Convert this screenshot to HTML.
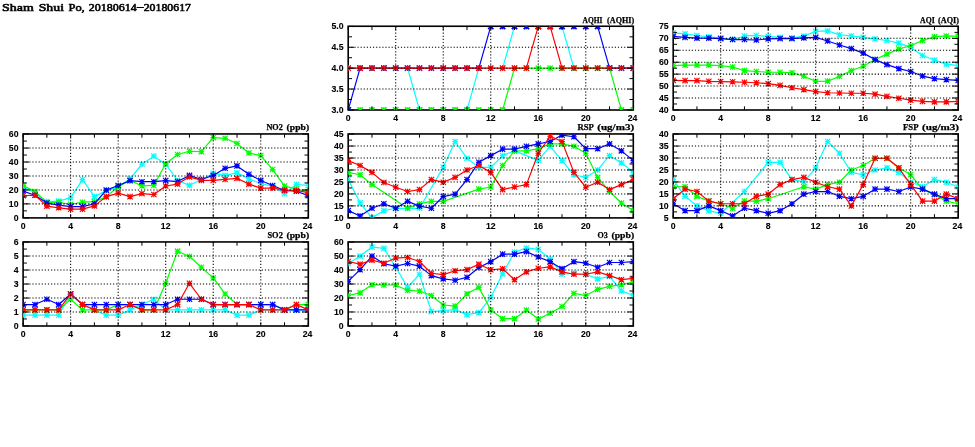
<!DOCTYPE html>
<html><head><meta charset="utf-8"><title>Sham Shui Po, 20180614-20180617</title>
<style>html,body{margin:0;padding:0;background:#fff}svg{display:block}</style></head>
<body>
<svg width="975" height="447" viewBox="0 0 975 447">
<rect width="975" height="447" fill="#fff"/>
<defs>
<g id="mc" stroke="#00ffff" stroke-width="1.15" fill="none"><path d="M-2.8,0H2.8M0,-2.8V2.8M-2.66,-2.66L2.66,2.66M-2.66,2.66L2.66,-2.66"/></g>
<g id="nc" stroke="#00ffff" stroke-width="1.6" fill="none"><path d="M0,-2.8V2.8M-2.66,-2.66L2.66,2.66M-2.66,2.66L2.66,-2.66"/></g>
<g id="mg" stroke="#00ff00" stroke-width="1.15" fill="none"><path d="M-2.8,0H2.8M0,-2.8V2.8M-2.66,-2.66L2.66,2.66M-2.66,2.66L2.66,-2.66"/></g>
<g id="ng" stroke="#00ff00" stroke-width="1.6" fill="none"><path d="M0,-2.8V2.8M-2.66,-2.66L2.66,2.66M-2.66,2.66L2.66,-2.66"/></g>
<g id="mb" stroke="#0000ff" stroke-width="1.15" fill="none"><path d="M-2.8,0H2.8M0,-2.8V2.8M-2.66,-2.66L2.66,2.66M-2.66,2.66L2.66,-2.66"/></g>
<g id="nb" stroke="#0000ff" stroke-width="1.6" fill="none"><path d="M0,-2.8V2.8M-2.66,-2.66L2.66,2.66M-2.66,2.66L2.66,-2.66"/></g>
<g id="mr" stroke="#ff0000" stroke-width="1.15" fill="none"><path d="M-2.8,0H2.8M0,-2.8V2.8M-2.66,-2.66L2.66,2.66M-2.66,2.66L2.66,-2.66"/></g>
<g id="nr" stroke="#ff0000" stroke-width="1.6" fill="none"><path d="M0,-2.8V2.8M-2.66,-2.66L2.66,2.66M-2.66,2.66L2.66,-2.66"/></g>
<clipPath id="cpNO2"><rect x="23.1" y="134.1" width="285.2" height="83.75"/></clipPath>
<clipPath id="cpSO2"><rect x="23.1" y="242.1" width="285.2" height="83.85"/></clipPath>
<clipPath id="cpAQHI"><rect x="348.2" y="26.4" width="285.09999999999997" height="83.55000000000001"/></clipPath>
<clipPath id="cpRSP"><rect x="348.2" y="134.1" width="285.09999999999997" height="83.75"/></clipPath>
<clipPath id="cpFSP"><rect x="673.2" y="134.1" width="285.0" height="83.75"/></clipPath>
<clipPath id="cpO3"><rect x="348.2" y="242.1" width="285.09999999999997" height="83.85"/></clipPath>
<clipPath id="cpAQI"><rect x="673.2" y="26.4" width="285.0" height="83.55000000000001"/></clipPath>
</defs>
<text y="10.65" font-family="'Liberation Serif', serif" font-size="11.2" fill="#000" stroke="#000" stroke-width="0.6" stroke-linejoin="round"><tspan x="2.1" textLength="31.7" lengthAdjust="spacingAndGlyphs">Sham</tspan> <tspan x="38.7" textLength="25.3" lengthAdjust="spacingAndGlyphs">Shui</tspan> <tspan x="68.5" textLength="16.2" lengthAdjust="spacingAndGlyphs">Po,</tspan> <tspan x="88.8" textLength="47.9" lengthAdjust="spacingAndGlyphs">20180614</tspan><tspan x="137.1" dy="-0.7" textLength="6.5" lengthAdjust="spacingAndGlyphs">–</tspan><tspan x="143.7" dy="0.7" textLength="47.3" lengthAdjust="spacingAndGlyphs">20180617</tspan></text>
<g id="NO2">
<rect x="23.1" y="133.95" width="285.2" height="83.95" stroke="#000" stroke-width="1.6" fill="none"/>
<g clip-path="url(#cpNO2)">
<path d="M23.1,187.14L34.98,192.72L46.87,201.66L58.75,201.1L70.63,197.61L82.52,179.6L94.4,196.63L106.28,190.63L118.17,187.14L130.05,178.77L141.93,164.25L153.82,156.15L165.7,164.25L177.58,180.44L189.47,185.33L201.35,179.46L213.23,173.32L225.12,175.42L237,172.9L248.88,178.77L260.77,183.51L272.65,186.44L284.53,193.56L296.42,184.49L308.3,185.47" stroke="#00ffff" stroke-width="1.2" fill="none" stroke-linejoin="round"/>
<use href="#mc" x="23.1" y="187.14"/>
<use href="#mc" x="34.98" y="192.72"/>
<use href="#mc" x="46.87" y="201.66"/>
<use href="#mc" x="58.75" y="201.1"/>
<use href="#mc" x="70.63" y="197.61"/>
<use href="#mc" x="82.52" y="179.6"/>
<use href="#mc" x="94.4" y="196.63"/>
<use href="#mc" x="106.28" y="190.63"/>
<use href="#mc" x="118.17" y="187.14"/>
<use href="#mc" x="130.05" y="178.77"/>
<use href="#mc" x="141.93" y="164.25"/>
<use href="#mc" x="153.82" y="156.15"/>
<use href="#mc" x="165.7" y="164.25"/>
<use href="#mc" x="177.58" y="180.44"/>
<use href="#mc" x="189.47" y="185.33"/>
<use href="#mc" x="201.35" y="179.46"/>
<use href="#mc" x="213.23" y="173.32"/>
<use href="#mc" x="225.12" y="175.42"/>
<use href="#mc" x="237" y="172.9"/>
<use href="#mc" x="248.88" y="178.77"/>
<use href="#mc" x="260.77" y="183.51"/>
<use href="#mc" x="272.65" y="186.44"/>
<use href="#mc" x="284.53" y="193.56"/>
<use href="#mc" x="296.42" y="184.49"/>
<use href="#mc" x="308.3" y="185.47"/>
<path d="M23.1,185.47L34.98,191.61L46.87,202.64L58.75,202.22L70.63,204.31L82.52,202.22L94.4,201.66L106.28,196.91L118.17,186.44L130.05,180.44L141.93,185.89L153.82,185.47L165.7,163.69L177.58,154.48L189.47,151.27L201.35,151.69L213.23,137.59L225.12,138.29L237,143.45L248.88,152.94L260.77,155.6L272.65,169.55L284.53,186.03L296.42,189.1L308.3,191.61" stroke="#00ff00" stroke-width="1.2" fill="none" stroke-linejoin="round"/>
<use href="#mg" x="23.1" y="185.47"/>
<use href="#mg" x="34.98" y="191.61"/>
<use href="#mg" x="46.87" y="202.64"/>
<use href="#mg" x="58.75" y="202.22"/>
<use href="#mg" x="70.63" y="204.31"/>
<use href="#mg" x="82.52" y="202.22"/>
<use href="#mg" x="94.4" y="201.66"/>
<use href="#mg" x="106.28" y="196.91"/>
<use href="#mg" x="118.17" y="186.44"/>
<use href="#mg" x="130.05" y="180.44"/>
<use href="#mg" x="141.93" y="185.89"/>
<use href="#mg" x="153.82" y="185.47"/>
<use href="#mg" x="165.7" y="163.69"/>
<use href="#mg" x="177.58" y="154.48"/>
<use href="#mg" x="189.47" y="151.27"/>
<use href="#mg" x="201.35" y="151.69"/>
<use href="#mg" x="213.23" y="137.59"/>
<use href="#mg" x="225.12" y="138.29"/>
<use href="#mg" x="237" y="143.45"/>
<use href="#mg" x="248.88" y="152.94"/>
<use href="#mg" x="260.77" y="155.6"/>
<use href="#mg" x="272.65" y="169.55"/>
<use href="#mg" x="284.53" y="186.03"/>
<use href="#mg" x="296.42" y="189.1"/>
<use href="#mg" x="308.3" y="191.61"/>
<path d="M23.1,191.19L34.98,195.24L46.87,203.05L58.75,205.15L70.63,206.68L82.52,206.68L94.4,203.75L106.28,190.07L118.17,185.47L130.05,180.58L141.93,181.7L153.82,181.7L165.7,180.58L177.58,181.56L189.47,175.42L201.35,179.46L213.23,175.42L225.12,168.3L237,165.92L248.88,174.3L260.77,180.44L272.65,185.47L284.53,190.49L296.42,191.19L308.3,195.66" stroke="#0000ff" stroke-width="1.2" fill="none" stroke-linejoin="round"/>
<use href="#mb" x="23.1" y="191.19"/>
<use href="#mb" x="34.98" y="195.24"/>
<use href="#mb" x="46.87" y="203.05"/>
<use href="#mb" x="58.75" y="205.15"/>
<use href="#mb" x="70.63" y="206.68"/>
<use href="#mb" x="82.52" y="206.68"/>
<use href="#mb" x="94.4" y="203.75"/>
<use href="#mb" x="106.28" y="190.07"/>
<use href="#mb" x="118.17" y="185.47"/>
<use href="#mb" x="130.05" y="180.58"/>
<use href="#mb" x="141.93" y="181.7"/>
<use href="#mb" x="153.82" y="181.7"/>
<use href="#mb" x="165.7" y="180.58"/>
<use href="#mb" x="177.58" y="181.56"/>
<use href="#mb" x="189.47" y="175.42"/>
<use href="#mb" x="201.35" y="179.46"/>
<use href="#mb" x="213.23" y="175.42"/>
<use href="#mb" x="225.12" y="168.3"/>
<use href="#mb" x="237" y="165.92"/>
<use href="#mb" x="248.88" y="174.3"/>
<use href="#mb" x="260.77" y="180.44"/>
<use href="#mb" x="272.65" y="185.47"/>
<use href="#mb" x="284.53" y="190.49"/>
<use href="#mb" x="296.42" y="191.19"/>
<use href="#mb" x="308.3" y="195.66"/>
<path d="M23.1,195.66L34.98,195.24L46.87,206.12L58.75,207.8L70.63,209.2L82.52,209.2L94.4,205.85L106.28,196.63L118.17,193.14L130.05,196.63L141.93,193.56L153.82,194.54L165.7,186.03L177.58,184.07L189.47,176.81L201.35,180.44L213.23,180.44L225.12,179.46L237,178.35L248.88,184.07L260.77,188.12L272.65,187.98L284.53,190.07L296.42,190.49L308.3,192.59" stroke="#ff0000" stroke-width="1.2" fill="none" stroke-linejoin="round"/>
<use href="#mr" x="23.1" y="195.66"/>
<use href="#mr" x="34.98" y="195.24"/>
<use href="#mr" x="46.87" y="206.12"/>
<use href="#mr" x="58.75" y="207.8"/>
<use href="#mr" x="70.63" y="209.2"/>
<use href="#mr" x="82.52" y="209.2"/>
<use href="#mr" x="94.4" y="205.85"/>
<use href="#mr" x="106.28" y="196.63"/>
<use href="#mr" x="118.17" y="193.14"/>
<use href="#mr" x="130.05" y="196.63"/>
<use href="#mr" x="141.93" y="193.56"/>
<use href="#mr" x="153.82" y="194.54"/>
<use href="#mr" x="165.7" y="186.03"/>
<use href="#mr" x="177.58" y="184.07"/>
<use href="#mr" x="189.47" y="176.81"/>
<use href="#mr" x="201.35" y="180.44"/>
<use href="#mr" x="213.23" y="180.44"/>
<use href="#mr" x="225.12" y="179.46"/>
<use href="#mr" x="237" y="178.35"/>
<use href="#mr" x="248.88" y="184.07"/>
<use href="#mr" x="260.77" y="188.12"/>
<use href="#mr" x="272.65" y="187.98"/>
<use href="#mr" x="284.53" y="190.07"/>
<use href="#mr" x="296.42" y="190.49"/>
<use href="#mr" x="308.3" y="192.59"/>
</g>
<path d="M23.1,203.89H308.3M23.1,189.93H308.3M23.1,175.97H308.3M23.1,162.02H308.3M23.1,148.06H308.3M70.63,134.1V217.85M118.17,134.1V217.85M165.7,134.1V217.85M213.23,134.1V217.85M260.77,134.1V217.85" stroke="#000" stroke-width="1.05" stroke-dasharray="1.2 1.9" fill="none"/>
<path d="M23.1,217.85h6.0M308.3,217.85h-6.0M23.1,210.87h3.8M308.3,210.87h-3.8M23.1,203.89h6.0M308.3,203.89h-6.0M23.1,196.91h3.8M308.3,196.91h-3.8M23.1,189.93h6.0M308.3,189.93h-6.0M23.1,182.95h3.8M308.3,182.95h-3.8M23.1,175.97h6.0M308.3,175.97h-6.0M23.1,169h3.8M308.3,169h-3.8M23.1,162.02h6.0M308.3,162.02h-6.0M23.1,155.04h3.8M308.3,155.04h-3.8M23.1,148.06h6.0M308.3,148.06h-6.0M23.1,141.08h3.8M308.3,141.08h-3.8M23.1,134.1h6.0M308.3,134.1h-6.0M23.1,134.1v3.6M23.1,217.85v-3.6M46.87,134.1v3.6M46.87,217.85v-3.6M70.63,134.1v3.6M70.63,217.85v-3.6M94.4,134.1v3.6M94.4,217.85v-3.6M118.17,134.1v3.6M118.17,217.85v-3.6M141.93,134.1v3.6M141.93,217.85v-3.6M165.7,134.1v3.6M165.7,217.85v-3.6M189.47,134.1v3.6M189.47,217.85v-3.6M213.23,134.1v3.6M213.23,217.85v-3.6M237,134.1v3.6M237,217.85v-3.6M260.77,134.1v3.6M260.77,217.85v-3.6M284.53,134.1v3.6M284.53,217.85v-3.6M308.3,134.1v3.6M308.3,217.85v-3.6" stroke="#000" stroke-width="1.0" fill="none"/>
<g font-family="'Liberation Sans', sans-serif" font-weight="bold" font-size="8.7" fill="#000" stroke="#000" stroke-width="0.1">
<text x="18.5" y="220.65" text-anchor="end">0</text>
<text x="18.5" y="206.69" text-anchor="end">10</text>
<text x="18.5" y="192.73" text-anchor="end">20</text>
<text x="18.5" y="178.78" text-anchor="end">30</text>
<text x="18.5" y="164.82" text-anchor="end">40</text>
<text x="18.5" y="150.86" text-anchor="end">50</text>
<text x="18.5" y="136.9" text-anchor="end">60</text>
<text x="23.1" y="228.55" text-anchor="middle">0</text>
<text x="70.63" y="228.55" text-anchor="middle">4</text>
<text x="118.17" y="228.55" text-anchor="middle">8</text>
<text x="165.7" y="228.55" text-anchor="middle">12</text>
<text x="213.23" y="228.55" text-anchor="middle">16</text>
<text x="260.77" y="228.55" text-anchor="middle">20</text>
<text x="307.5" y="228.55" text-anchor="middle">24</text>
</g>
<text y="130.35" font-family="'Liberation Serif', serif" font-weight="bold" font-size="8.8" fill="#000" stroke="#000" stroke-width="0.25"><tspan x="266.45" textLength="16.4" lengthAdjust="spacingAndGlyphs">NO2</tspan> <tspan x="286.55" textLength="22.6" lengthAdjust="spacingAndGlyphs">(ppb)</tspan></text>
</g>
<g id="SO2">
<rect x="23.1" y="241.95" width="285.2" height="84.05" stroke="#000" stroke-width="1.6" fill="none"/>
<g clip-path="url(#cpSO2)">
<path d="M23.1,315.19L34.98,315.19L46.87,315.19L58.75,315.19L70.63,293.95L82.52,304.57L94.4,309.88L106.28,315.19L118.17,315.19L130.05,309.88L141.93,304.57L153.82,299.26L165.7,309.88L177.58,309.88L189.47,309.88L201.35,309.88L213.23,309.88L225.12,309.88L237,315.19L248.88,315.19L260.77,309.88L272.65,309.88L284.53,309.88L296.42,309.88L308.3,309.88" stroke="#00ffff" stroke-width="1.2" fill="none" stroke-linejoin="round"/>
<use href="#mc" x="23.1" y="315.19"/>
<use href="#mc" x="34.98" y="315.19"/>
<use href="#mc" x="46.87" y="315.19"/>
<use href="#mc" x="58.75" y="315.19"/>
<use href="#mc" x="70.63" y="293.95"/>
<use href="#mc" x="82.52" y="304.57"/>
<use href="#mc" x="94.4" y="309.88"/>
<use href="#mc" x="106.28" y="315.19"/>
<use href="#mc" x="118.17" y="315.19"/>
<use href="#mc" x="130.05" y="309.88"/>
<use href="#mc" x="141.93" y="304.57"/>
<use href="#mc" x="153.82" y="299.26"/>
<use href="#mc" x="165.7" y="309.88"/>
<use href="#mc" x="177.58" y="309.88"/>
<use href="#mc" x="189.47" y="309.88"/>
<use href="#mc" x="201.35" y="309.88"/>
<use href="#mc" x="213.23" y="309.88"/>
<use href="#mc" x="225.12" y="309.88"/>
<use href="#mc" x="237" y="315.19"/>
<use href="#mc" x="248.88" y="315.19"/>
<use href="#mc" x="260.77" y="309.88"/>
<use href="#mc" x="272.65" y="309.88"/>
<use href="#mc" x="284.53" y="309.88"/>
<use href="#mc" x="296.42" y="309.88"/>
<use href="#mc" x="308.3" y="309.88"/>
<path d="M23.1,309.88L34.98,309.88L46.87,309.88L58.75,309.88L70.63,299.26L82.52,309.88L94.4,309.88L106.28,309.88L118.17,304.57L130.05,304.57L141.93,309.88L153.82,309.88L165.7,283.33L177.58,251.18L189.47,256.49L201.35,267.25L213.23,277.88L225.12,293.95L237,304.57L248.88,304.57L260.77,304.57L272.65,304.57L284.53,309.88L296.42,304.57L308.3,304.57" stroke="#00ff00" stroke-width="1.2" fill="none" stroke-linejoin="round"/>
<use href="#mg" x="23.1" y="309.88"/>
<use href="#mg" x="34.98" y="309.88"/>
<use href="#mg" x="46.87" y="309.88"/>
<use href="#mg" x="58.75" y="309.88"/>
<use href="#mg" x="70.63" y="299.26"/>
<use href="#mg" x="82.52" y="309.88"/>
<use href="#mg" x="94.4" y="309.88"/>
<use href="#mg" x="106.28" y="309.88"/>
<use href="#mg" x="118.17" y="304.57"/>
<use href="#mg" x="130.05" y="304.57"/>
<use href="#mg" x="141.93" y="309.88"/>
<use href="#mg" x="153.82" y="309.88"/>
<use href="#mg" x="165.7" y="283.33"/>
<use href="#mg" x="177.58" y="251.18"/>
<use href="#mg" x="189.47" y="256.49"/>
<use href="#mg" x="201.35" y="267.25"/>
<use href="#mg" x="213.23" y="277.88"/>
<use href="#mg" x="225.12" y="293.95"/>
<use href="#mg" x="237" y="304.57"/>
<use href="#mg" x="248.88" y="304.57"/>
<use href="#mg" x="260.77" y="304.57"/>
<use href="#mg" x="272.65" y="304.57"/>
<use href="#mg" x="284.53" y="309.88"/>
<use href="#mg" x="296.42" y="304.57"/>
<use href="#mg" x="308.3" y="304.57"/>
<path d="M23.1,304.57L34.98,304.57L46.87,299.26L58.75,304.57L70.63,293.95L82.52,304.57L94.4,304.57L106.28,304.57L118.17,304.57L130.05,304.57L141.93,304.57L153.82,304.57L165.7,304.57L177.58,299.26L189.47,299.26L201.35,299.26L213.23,304.57L225.12,304.57L237,304.57L248.88,304.57L260.77,304.57L272.65,304.57L284.53,309.88L296.42,309.88L308.3,309.88" stroke="#0000ff" stroke-width="1.2" fill="none" stroke-linejoin="round"/>
<use href="#mb" x="23.1" y="304.57"/>
<use href="#mb" x="34.98" y="304.57"/>
<use href="#mb" x="46.87" y="299.26"/>
<use href="#mb" x="58.75" y="304.57"/>
<use href="#mb" x="70.63" y="293.95"/>
<use href="#mb" x="82.52" y="304.57"/>
<use href="#mb" x="94.4" y="304.57"/>
<use href="#mb" x="106.28" y="304.57"/>
<use href="#mb" x="118.17" y="304.57"/>
<use href="#mb" x="130.05" y="304.57"/>
<use href="#mb" x="141.93" y="304.57"/>
<use href="#mb" x="153.82" y="304.57"/>
<use href="#mb" x="165.7" y="304.57"/>
<use href="#mb" x="177.58" y="299.26"/>
<use href="#mb" x="189.47" y="299.26"/>
<use href="#mb" x="201.35" y="299.26"/>
<use href="#mb" x="213.23" y="304.57"/>
<use href="#mb" x="225.12" y="304.57"/>
<use href="#mb" x="237" y="304.57"/>
<use href="#mb" x="248.88" y="304.57"/>
<use href="#mb" x="260.77" y="304.57"/>
<use href="#mb" x="272.65" y="304.57"/>
<use href="#mb" x="284.53" y="309.88"/>
<use href="#mb" x="296.42" y="309.88"/>
<use href="#mb" x="308.3" y="309.88"/>
<path d="M23.1,309.88L34.98,309.88L46.87,309.88L58.75,309.88L70.63,293.95L82.52,304.57L94.4,309.88L106.28,309.88L118.17,309.88L130.05,304.57L141.93,309.88L153.82,309.88L165.7,309.88L177.58,304.57L189.47,283.33L201.35,299.26L213.23,304.57L225.12,304.57L237,304.57L248.88,304.57L260.77,309.88L272.65,309.88L284.53,309.88L296.42,304.57L308.3,309.88" stroke="#ff0000" stroke-width="1.2" fill="none" stroke-linejoin="round"/>
<use href="#mr" x="23.1" y="309.88"/>
<use href="#mr" x="34.98" y="309.88"/>
<use href="#mr" x="46.87" y="309.88"/>
<use href="#mr" x="58.75" y="309.88"/>
<use href="#mr" x="70.63" y="293.95"/>
<use href="#mr" x="82.52" y="304.57"/>
<use href="#mr" x="94.4" y="309.88"/>
<use href="#mr" x="106.28" y="309.88"/>
<use href="#mr" x="118.17" y="309.88"/>
<use href="#mr" x="130.05" y="304.57"/>
<use href="#mr" x="141.93" y="309.88"/>
<use href="#mr" x="153.82" y="309.88"/>
<use href="#mr" x="165.7" y="309.88"/>
<use href="#mr" x="177.58" y="304.57"/>
<use href="#mr" x="189.47" y="283.33"/>
<use href="#mr" x="201.35" y="299.26"/>
<use href="#mr" x="213.23" y="304.57"/>
<use href="#mr" x="225.12" y="304.57"/>
<use href="#mr" x="237" y="304.57"/>
<use href="#mr" x="248.88" y="304.57"/>
<use href="#mr" x="260.77" y="309.88"/>
<use href="#mr" x="272.65" y="309.88"/>
<use href="#mr" x="284.53" y="309.88"/>
<use href="#mr" x="296.42" y="304.57"/>
<use href="#mr" x="308.3" y="309.88"/>
</g>
<path d="M23.1,311.97H308.3M23.1,298H308.3M23.1,284.02H308.3M23.1,270.05H308.3M23.1,256.07H308.3M70.63,242.1V325.95M118.17,242.1V325.95M165.7,242.1V325.95M213.23,242.1V325.95M260.77,242.1V325.95" stroke="#000" stroke-width="1.05" stroke-dasharray="1.2 1.9" fill="none"/>
<path d="M23.1,325.95h6.0M308.3,325.95h-6.0M23.1,318.96h3.8M308.3,318.96h-3.8M23.1,311.97h6.0M308.3,311.97h-6.0M23.1,304.99h3.8M308.3,304.99h-3.8M23.1,298h6.0M308.3,298h-6.0M23.1,291.01h3.8M308.3,291.01h-3.8M23.1,284.02h6.0M308.3,284.02h-6.0M23.1,277.04h3.8M308.3,277.04h-3.8M23.1,270.05h6.0M308.3,270.05h-6.0M23.1,263.06h3.8M308.3,263.06h-3.8M23.1,256.07h6.0M308.3,256.07h-6.0M23.1,249.09h3.8M308.3,249.09h-3.8M23.1,242.1h6.0M308.3,242.1h-6.0M23.1,242.1v3.6M23.1,325.95v-3.6M46.87,242.1v3.6M46.87,325.95v-3.6M70.63,242.1v3.6M70.63,325.95v-3.6M94.4,242.1v3.6M94.4,325.95v-3.6M118.17,242.1v3.6M118.17,325.95v-3.6M141.93,242.1v3.6M141.93,325.95v-3.6M165.7,242.1v3.6M165.7,325.95v-3.6M189.47,242.1v3.6M189.47,325.95v-3.6M213.23,242.1v3.6M213.23,325.95v-3.6M237,242.1v3.6M237,325.95v-3.6M260.77,242.1v3.6M260.77,325.95v-3.6M284.53,242.1v3.6M284.53,325.95v-3.6M308.3,242.1v3.6M308.3,325.95v-3.6" stroke="#000" stroke-width="1.0" fill="none"/>
<g font-family="'Liberation Sans', sans-serif" font-weight="bold" font-size="8.7" fill="#000" stroke="#000" stroke-width="0.1">
<text x="18.5" y="328.75" text-anchor="end">0</text>
<text x="18.5" y="314.77" text-anchor="end">1</text>
<text x="18.5" y="300.8" text-anchor="end">2</text>
<text x="18.5" y="286.82" text-anchor="end">3</text>
<text x="18.5" y="272.85" text-anchor="end">4</text>
<text x="18.5" y="258.88" text-anchor="end">5</text>
<text x="18.5" y="244.9" text-anchor="end">6</text>
<text x="23.1" y="336.65" text-anchor="middle">0</text>
<text x="70.63" y="336.65" text-anchor="middle">4</text>
<text x="118.17" y="336.65" text-anchor="middle">8</text>
<text x="165.7" y="336.65" text-anchor="middle">12</text>
<text x="213.23" y="336.65" text-anchor="middle">16</text>
<text x="260.77" y="336.65" text-anchor="middle">20</text>
<text x="307.5" y="336.65" text-anchor="middle">24</text>
</g>
<text y="238.35" font-family="'Liberation Serif', serif" font-weight="bold" font-size="8.8" fill="#000" stroke="#000" stroke-width="0.25"><tspan x="267.45" textLength="15.4" lengthAdjust="spacingAndGlyphs">SO2</tspan> <tspan x="286.45" textLength="22.7" lengthAdjust="spacingAndGlyphs">(ppb)</tspan></text>
</g>
<g id="AQHI">
<rect x="348.2" y="26.25" width="285.1" height="83.75" stroke="#000" stroke-width="1.6" fill="none"/>
<g clip-path="url(#cpAQHI)">
<path d="M348.2,68.17L360.08,68.17L371.96,68.17L383.84,68.17L395.72,68.17L407.6,68.17L419.47,109.95M431.35,109.95M443.23,109.95M455.11,109.95M466.99,109.95L478.87,68.17L490.75,68.17L502.63,68.17L514.51,26.4M526.39,26.4M538.27,26.4M550.15,26.4M562.02,26.4L573.9,68.17L585.78,68.17L597.66,68.17L609.54,68.17L621.42,68.17L633.3,68.17" stroke="#00ffff" stroke-width="1.2" fill="none" stroke-linejoin="round"/>
<use href="#mc" x="348.2" y="68.17"/>
<use href="#mc" x="360.08" y="68.17"/>
<use href="#mc" x="371.96" y="68.17"/>
<use href="#mc" x="383.84" y="68.17"/>
<use href="#mc" x="395.72" y="68.17"/>
<use href="#mc" x="407.6" y="68.17"/>
<use href="#nc" x="419.47" y="109.95"/>
<use href="#nc" x="431.35" y="109.95"/>
<use href="#nc" x="443.23" y="109.95"/>
<use href="#nc" x="455.11" y="109.95"/>
<use href="#nc" x="466.99" y="109.95"/>
<use href="#mc" x="478.87" y="68.17"/>
<use href="#mc" x="490.75" y="68.17"/>
<use href="#mc" x="502.63" y="68.17"/>
<use href="#nc" x="514.51" y="26.4"/>
<use href="#nc" x="526.39" y="26.4"/>
<use href="#nc" x="538.27" y="26.4"/>
<use href="#nc" x="550.15" y="26.4"/>
<use href="#nc" x="562.02" y="26.4"/>
<use href="#mc" x="573.9" y="68.17"/>
<use href="#mc" x="585.78" y="68.17"/>
<use href="#mc" x="597.66" y="68.17"/>
<use href="#mc" x="609.54" y="68.17"/>
<use href="#mc" x="621.42" y="68.17"/>
<use href="#mc" x="633.3" y="68.17"/>
<path d="M348.2,109.95M360.08,109.95M371.96,109.95M383.84,109.95M395.72,109.95M407.6,109.95M419.47,109.95M431.35,109.95M443.23,109.95M455.11,109.95M466.99,109.95M478.87,109.95M490.75,109.95M502.63,109.95L514.51,68.17L526.39,68.17L538.27,68.17L550.15,68.17L562.02,68.17L573.9,68.17L585.78,68.17L597.66,68.17L609.54,68.17L621.42,109.95M633.3,109.95" stroke="#00ff00" stroke-width="1.2" fill="none" stroke-linejoin="round"/>
<use href="#ng" x="348.2" y="109.95"/>
<use href="#ng" x="360.08" y="109.95"/>
<use href="#ng" x="371.96" y="109.95"/>
<use href="#ng" x="383.84" y="109.95"/>
<use href="#ng" x="395.72" y="109.95"/>
<use href="#ng" x="407.6" y="109.95"/>
<use href="#ng" x="419.47" y="109.95"/>
<use href="#ng" x="431.35" y="109.95"/>
<use href="#ng" x="443.23" y="109.95"/>
<use href="#ng" x="455.11" y="109.95"/>
<use href="#ng" x="466.99" y="109.95"/>
<use href="#ng" x="478.87" y="109.95"/>
<use href="#ng" x="490.75" y="109.95"/>
<use href="#ng" x="502.63" y="109.95"/>
<use href="#mg" x="514.51" y="68.17"/>
<use href="#mg" x="526.39" y="68.17"/>
<use href="#mg" x="538.27" y="68.17"/>
<use href="#mg" x="550.15" y="68.17"/>
<use href="#mg" x="562.02" y="68.17"/>
<use href="#mg" x="573.9" y="68.17"/>
<use href="#mg" x="585.78" y="68.17"/>
<use href="#mg" x="597.66" y="68.17"/>
<use href="#mg" x="609.54" y="68.17"/>
<use href="#ng" x="621.42" y="109.95"/>
<use href="#ng" x="633.3" y="109.95"/>
<path d="M348.2,109.95L360.08,68.17L371.96,68.17L383.84,68.17L395.72,68.17L407.6,68.17L419.47,68.17L431.35,68.17L443.23,68.17L455.11,68.17L466.99,68.17L478.87,68.17L490.75,26.4M502.63,26.4M514.51,26.4M526.39,26.4M538.27,26.4M550.15,26.4M562.02,26.4M573.9,26.4M585.78,26.4M597.66,26.4L609.54,68.17L621.42,68.17L633.3,68.17" stroke="#0000ff" stroke-width="1.2" fill="none" stroke-linejoin="round"/>
<use href="#nb" x="348.2" y="109.95"/>
<use href="#mb" x="360.08" y="68.17"/>
<use href="#mb" x="371.96" y="68.17"/>
<use href="#mb" x="383.84" y="68.17"/>
<use href="#mb" x="395.72" y="68.17"/>
<use href="#mb" x="407.6" y="68.17"/>
<use href="#mb" x="419.47" y="68.17"/>
<use href="#mb" x="431.35" y="68.17"/>
<use href="#mb" x="443.23" y="68.17"/>
<use href="#mb" x="455.11" y="68.17"/>
<use href="#mb" x="466.99" y="68.17"/>
<use href="#mb" x="478.87" y="68.17"/>
<use href="#nb" x="490.75" y="26.4"/>
<use href="#nb" x="502.63" y="26.4"/>
<use href="#nb" x="514.51" y="26.4"/>
<use href="#nb" x="526.39" y="26.4"/>
<use href="#nb" x="538.27" y="26.4"/>
<use href="#nb" x="550.15" y="26.4"/>
<use href="#nb" x="562.02" y="26.4"/>
<use href="#nb" x="573.9" y="26.4"/>
<use href="#nb" x="585.78" y="26.4"/>
<use href="#nb" x="597.66" y="26.4"/>
<use href="#mb" x="609.54" y="68.17"/>
<use href="#mb" x="621.42" y="68.17"/>
<use href="#mb" x="633.3" y="68.17"/>
<path d="M348.2,68.17L360.08,68.17L371.96,68.17L383.84,68.17L395.72,68.17L407.6,68.17L419.47,68.17L431.35,68.17L443.23,68.17L455.11,68.17L466.99,68.17L478.87,68.17L490.75,68.17L502.63,68.17L514.51,68.17L526.39,68.17L538.27,26.4M550.15,26.4L562.02,68.17L573.9,68.17L585.78,68.17L597.66,68.17L609.54,68.17L621.42,68.17L633.3,68.17" stroke="#ff0000" stroke-width="1.2" fill="none" stroke-linejoin="round"/>
<use href="#mr" x="348.2" y="68.17"/>
<use href="#mr" x="360.08" y="68.17"/>
<use href="#mr" x="371.96" y="68.17"/>
<use href="#mr" x="383.84" y="68.17"/>
<use href="#mr" x="395.72" y="68.17"/>
<use href="#mr" x="407.6" y="68.17"/>
<use href="#mr" x="419.47" y="68.17"/>
<use href="#mr" x="431.35" y="68.17"/>
<use href="#mr" x="443.23" y="68.17"/>
<use href="#mr" x="455.11" y="68.17"/>
<use href="#mr" x="466.99" y="68.17"/>
<use href="#mr" x="478.87" y="68.17"/>
<use href="#mr" x="490.75" y="68.17"/>
<use href="#mr" x="502.63" y="68.17"/>
<use href="#mr" x="514.51" y="68.17"/>
<use href="#mr" x="526.39" y="68.17"/>
<use href="#nr" x="538.27" y="26.4"/>
<use href="#nr" x="550.15" y="26.4"/>
<use href="#mr" x="562.02" y="68.17"/>
<use href="#mr" x="573.9" y="68.17"/>
<use href="#mr" x="585.78" y="68.17"/>
<use href="#mr" x="597.66" y="68.17"/>
<use href="#mr" x="609.54" y="68.17"/>
<use href="#mr" x="621.42" y="68.17"/>
<use href="#mr" x="633.3" y="68.17"/>
</g>
<path d="M348.2,89.06H633.3M348.2,68.17H633.3M348.2,47.29H633.3M395.72,26.4V109.95M443.23,26.4V109.95M490.75,26.4V109.95M538.27,26.4V109.95M585.78,26.4V109.95" stroke="#000" stroke-width="1.05" stroke-dasharray="1.2 1.9" fill="none"/>
<path d="M348.2,109.95h6.0M633.3,109.95h-6.0M348.2,99.51h3.8M633.3,99.51h-3.8M348.2,89.06h6.0M633.3,89.06h-6.0M348.2,78.62h3.8M633.3,78.62h-3.8M348.2,68.17h6.0M633.3,68.17h-6.0M348.2,57.73h3.8M633.3,57.73h-3.8M348.2,47.29h6.0M633.3,47.29h-6.0M348.2,36.84h3.8M633.3,36.84h-3.8M348.2,26.4h6.0M633.3,26.4h-6.0M348.2,26.4v3.6M348.2,109.95v-3.6M371.96,26.4v3.6M371.96,109.95v-3.6M395.72,26.4v3.6M395.72,109.95v-3.6M419.47,26.4v3.6M419.47,109.95v-3.6M443.23,26.4v3.6M443.23,109.95v-3.6M466.99,26.4v3.6M466.99,109.95v-3.6M490.75,26.4v3.6M490.75,109.95v-3.6M514.51,26.4v3.6M514.51,109.95v-3.6M538.27,26.4v3.6M538.27,109.95v-3.6M562.02,26.4v3.6M562.02,109.95v-3.6M585.78,26.4v3.6M585.78,109.95v-3.6M609.54,26.4v3.6M609.54,109.95v-3.6M633.3,26.4v3.6M633.3,109.95v-3.6" stroke="#000" stroke-width="1.0" fill="none"/>
<g font-family="'Liberation Sans', sans-serif" font-weight="bold" font-size="8.7" fill="#000" stroke="#000" stroke-width="0.1">
<text x="343.6" y="112.75" text-anchor="end">3.0</text>
<text x="343.6" y="91.86" text-anchor="end">3.5</text>
<text x="343.6" y="70.97" text-anchor="end">4.0</text>
<text x="343.6" y="50.09" text-anchor="end">4.5</text>
<text x="343.6" y="29.2" text-anchor="end">5.0</text>
<text x="348.2" y="120.65" text-anchor="middle">0</text>
<text x="395.72" y="120.65" text-anchor="middle">4</text>
<text x="443.23" y="120.65" text-anchor="middle">8</text>
<text x="490.75" y="120.65" text-anchor="middle">12</text>
<text x="538.27" y="120.65" text-anchor="middle">16</text>
<text x="585.78" y="120.65" text-anchor="middle">20</text>
<text x="632.5" y="120.65" text-anchor="middle">24</text>
</g>
<text y="22.65" font-family="'Liberation Serif', serif" font-weight="bold" font-size="8.8" fill="#000" stroke="#000" stroke-width="0.25"><tspan x="582.5" textLength="19.9" lengthAdjust="spacingAndGlyphs">AQHI</tspan> <tspan x="607.1" textLength="27.05" lengthAdjust="spacingAndGlyphs">(AQHI)</tspan></text>
</g>
<g id="RSP">
<rect x="348.2" y="133.95" width="285.1" height="83.95" stroke="#000" stroke-width="1.6" fill="none"/>
<g clip-path="url(#cpRSP)">
<path d="M348.2,179.56L360.08,202.77L371.96,217.85L383.84,210.67L395.72,208.28L407.6,208.28L419.47,208.28L443.23,167.36L455.11,141.52L466.99,158.27L478.87,167.36L490.75,167.36L502.63,155.64L514.51,150.85L538.27,160.42L550.15,146.3L562.02,160.66L573.9,174.78L585.78,177.41L597.66,169.99L609.54,155.64L621.42,162.81L633.3,172.39" stroke="#00ffff" stroke-width="1.2" fill="none" stroke-linejoin="round"/>
<use href="#mc" x="348.2" y="179.56"/>
<use href="#mc" x="360.08" y="202.77"/>
<use href="#nc" x="371.96" y="217.85"/>
<use href="#mc" x="383.84" y="210.67"/>
<use href="#mc" x="395.72" y="208.28"/>
<use href="#mc" x="407.6" y="208.28"/>
<use href="#mc" x="419.47" y="208.28"/>
<use href="#mc" x="443.23" y="167.36"/>
<use href="#mc" x="455.11" y="141.52"/>
<use href="#mc" x="466.99" y="158.27"/>
<use href="#mc" x="478.87" y="167.36"/>
<use href="#mc" x="490.75" y="167.36"/>
<use href="#mc" x="502.63" y="155.64"/>
<use href="#mc" x="514.51" y="150.85"/>
<use href="#mc" x="538.27" y="160.42"/>
<use href="#mc" x="550.15" y="146.3"/>
<use href="#mc" x="562.02" y="160.66"/>
<use href="#mc" x="573.9" y="174.78"/>
<use href="#mc" x="585.78" y="177.41"/>
<use href="#mc" x="597.66" y="169.99"/>
<use href="#mc" x="609.54" y="155.64"/>
<use href="#mc" x="621.42" y="162.81"/>
<use href="#mc" x="633.3" y="172.39"/>
<path d="M348.2,172.39L360.08,174.78L371.96,184.59L407.6,208.28L419.47,203.73L431.35,201.34L443.23,201.34L478.87,189.14L490.75,186.98L502.63,165.45L514.51,150.85L526.39,150.85L538.27,148.7L550.15,143.91L562.02,143.91L573.9,146.3L585.78,153.24L597.66,177.41L609.54,191.53L621.42,203.01L633.3,210.67" stroke="#00ff00" stroke-width="1.2" fill="none" stroke-linejoin="round"/>
<use href="#mg" x="348.2" y="172.39"/>
<use href="#mg" x="360.08" y="174.78"/>
<use href="#mg" x="371.96" y="184.59"/>
<use href="#mg" x="407.6" y="208.28"/>
<use href="#mg" x="419.47" y="203.73"/>
<use href="#mg" x="431.35" y="201.34"/>
<use href="#mg" x="443.23" y="201.34"/>
<use href="#mg" x="478.87" y="189.14"/>
<use href="#mg" x="490.75" y="186.98"/>
<use href="#mg" x="502.63" y="165.45"/>
<use href="#mg" x="514.51" y="150.85"/>
<use href="#mg" x="526.39" y="150.85"/>
<use href="#mg" x="538.27" y="148.7"/>
<use href="#mg" x="550.15" y="143.91"/>
<use href="#mg" x="562.02" y="143.91"/>
<use href="#mg" x="573.9" y="146.3"/>
<use href="#mg" x="585.78" y="153.24"/>
<use href="#mg" x="597.66" y="177.41"/>
<use href="#mg" x="609.54" y="191.53"/>
<use href="#mg" x="621.42" y="203.01"/>
<use href="#mg" x="633.3" y="210.67"/>
<path d="M348.2,210.67L360.08,215.94L371.96,208.28L383.84,203.73L395.72,208.28L407.6,201.34L419.47,206.12L431.35,208.28L443.23,196.55L455.11,194.16L466.99,179.56L478.87,162.34L490.75,155.64L502.63,149.17L514.51,149.17L526.39,146.3L538.27,143.91L550.15,141.52L562.02,135.06L573.9,136.73L585.78,148.7L597.66,148.7L609.54,143.91L621.42,150.85L633.3,160.66" stroke="#0000ff" stroke-width="1.2" fill="none" stroke-linejoin="round"/>
<use href="#mb" x="348.2" y="210.67"/>
<use href="#mb" x="360.08" y="215.94"/>
<use href="#mb" x="371.96" y="208.28"/>
<use href="#mb" x="383.84" y="203.73"/>
<use href="#mb" x="395.72" y="208.28"/>
<use href="#mb" x="407.6" y="201.34"/>
<use href="#mb" x="419.47" y="206.12"/>
<use href="#mb" x="431.35" y="208.28"/>
<use href="#mb" x="443.23" y="196.55"/>
<use href="#mb" x="455.11" y="194.16"/>
<use href="#mb" x="466.99" y="179.56"/>
<use href="#mb" x="478.87" y="162.34"/>
<use href="#mb" x="490.75" y="155.64"/>
<use href="#mb" x="502.63" y="149.17"/>
<use href="#mb" x="514.51" y="149.17"/>
<use href="#mb" x="526.39" y="146.3"/>
<use href="#mb" x="538.27" y="143.91"/>
<use href="#mb" x="550.15" y="141.52"/>
<use href="#mb" x="562.02" y="135.06"/>
<use href="#mb" x="573.9" y="136.73"/>
<use href="#mb" x="585.78" y="148.7"/>
<use href="#mb" x="597.66" y="148.7"/>
<use href="#mb" x="609.54" y="143.91"/>
<use href="#mb" x="621.42" y="150.85"/>
<use href="#mb" x="633.3" y="160.66"/>
<path d="M348.2,160.66L360.08,165.45L371.96,172.39L383.84,182.44L395.72,187.22L407.6,191.53L419.47,189.61L431.35,179.56L443.23,182.2L455.11,177.41L466.99,169.99L478.87,165.45L490.75,172.39L502.63,189.61L514.51,186.98L526.39,184.59L538.27,153.24L550.15,136.25L562.02,141.52L573.9,172.39L585.78,187.22L597.66,182.2L609.54,189.61L621.42,184.59L633.3,179.56" stroke="#ff0000" stroke-width="1.2" fill="none" stroke-linejoin="round"/>
<use href="#mr" x="348.2" y="160.66"/>
<use href="#mr" x="360.08" y="165.45"/>
<use href="#mr" x="371.96" y="172.39"/>
<use href="#mr" x="383.84" y="182.44"/>
<use href="#mr" x="395.72" y="187.22"/>
<use href="#mr" x="407.6" y="191.53"/>
<use href="#mr" x="419.47" y="189.61"/>
<use href="#mr" x="431.35" y="179.56"/>
<use href="#mr" x="443.23" y="182.2"/>
<use href="#mr" x="455.11" y="177.41"/>
<use href="#mr" x="466.99" y="169.99"/>
<use href="#mr" x="478.87" y="165.45"/>
<use href="#mr" x="490.75" y="172.39"/>
<use href="#mr" x="502.63" y="189.61"/>
<use href="#mr" x="514.51" y="186.98"/>
<use href="#mr" x="526.39" y="184.59"/>
<use href="#mr" x="538.27" y="153.24"/>
<use href="#mr" x="550.15" y="136.25"/>
<use href="#mr" x="562.02" y="141.52"/>
<use href="#mr" x="573.9" y="172.39"/>
<use href="#mr" x="585.78" y="187.22"/>
<use href="#mr" x="597.66" y="182.2"/>
<use href="#mr" x="609.54" y="189.61"/>
<use href="#mr" x="621.42" y="184.59"/>
<use href="#mr" x="633.3" y="179.56"/>
</g>
<path d="M348.2,205.89H633.3M348.2,193.92H633.3M348.2,181.96H633.3M348.2,169.99H633.3M348.2,158.03H633.3M348.2,146.06H633.3M395.72,134.1V217.85M443.23,134.1V217.85M490.75,134.1V217.85M538.27,134.1V217.85M585.78,134.1V217.85" stroke="#000" stroke-width="1.05" stroke-dasharray="1.2 1.9" fill="none"/>
<path d="M348.2,217.85h6.0M633.3,217.85h-6.0M348.2,211.87h3.8M633.3,211.87h-3.8M348.2,205.89h6.0M633.3,205.89h-6.0M348.2,199.9h3.8M633.3,199.9h-3.8M348.2,193.92h6.0M633.3,193.92h-6.0M348.2,187.94h3.8M633.3,187.94h-3.8M348.2,181.96h6.0M633.3,181.96h-6.0M348.2,175.97h3.8M633.3,175.97h-3.8M348.2,169.99h6.0M633.3,169.99h-6.0M348.2,164.01h3.8M633.3,164.01h-3.8M348.2,158.03h6.0M633.3,158.03h-6.0M348.2,152.05h3.8M633.3,152.05h-3.8M348.2,146.06h6.0M633.3,146.06h-6.0M348.2,140.08h3.8M633.3,140.08h-3.8M348.2,134.1h6.0M633.3,134.1h-6.0M348.2,134.1v3.6M348.2,217.85v-3.6M371.96,134.1v3.6M371.96,217.85v-3.6M395.72,134.1v3.6M395.72,217.85v-3.6M419.47,134.1v3.6M419.47,217.85v-3.6M443.23,134.1v3.6M443.23,217.85v-3.6M466.99,134.1v3.6M466.99,217.85v-3.6M490.75,134.1v3.6M490.75,217.85v-3.6M514.51,134.1v3.6M514.51,217.85v-3.6M538.27,134.1v3.6M538.27,217.85v-3.6M562.02,134.1v3.6M562.02,217.85v-3.6M585.78,134.1v3.6M585.78,217.85v-3.6M609.54,134.1v3.6M609.54,217.85v-3.6M633.3,134.1v3.6M633.3,217.85v-3.6" stroke="#000" stroke-width="1.0" fill="none"/>
<g font-family="'Liberation Sans', sans-serif" font-weight="bold" font-size="8.7" fill="#000" stroke="#000" stroke-width="0.1">
<text x="343.6" y="220.65" text-anchor="end">10</text>
<text x="343.6" y="208.69" text-anchor="end">15</text>
<text x="343.6" y="196.72" text-anchor="end">20</text>
<text x="343.6" y="184.76" text-anchor="end">25</text>
<text x="343.6" y="172.79" text-anchor="end">30</text>
<text x="343.6" y="160.83" text-anchor="end">35</text>
<text x="343.6" y="148.86" text-anchor="end">40</text>
<text x="343.6" y="136.9" text-anchor="end">45</text>
<text x="348.2" y="228.55" text-anchor="middle">0</text>
<text x="395.72" y="228.55" text-anchor="middle">4</text>
<text x="443.23" y="228.55" text-anchor="middle">8</text>
<text x="490.75" y="228.55" text-anchor="middle">12</text>
<text x="538.27" y="228.55" text-anchor="middle">16</text>
<text x="585.78" y="228.55" text-anchor="middle">20</text>
<text x="632.5" y="228.55" text-anchor="middle">24</text>
</g>
<text y="130.35" font-family="'Liberation Serif', serif" font-weight="bold" font-size="8.8" fill="#000" stroke="#000" stroke-width="0.25"><tspan x="577.5" textLength="15.9" lengthAdjust="spacingAndGlyphs">RSP</tspan> <tspan x="597.2" textLength="36.95" lengthAdjust="spacingAndGlyphs">(ug/m3)</tspan></text>
</g>
<g id="FSP">
<rect x="673.2" y="133.95" width="285" height="83.95" stroke="#000" stroke-width="1.6" fill="none"/>
<g clip-path="url(#cpFSP)">
<path d="M673.2,179.56L685.08,196.31L696.95,205.89L708.83,210.67L720.7,213.3L744.45,191.53L768.2,162.34L780.08,162.34L791.95,179.56L803.83,181.96L815.7,167.84L827.58,141.52L839.45,153.24L851.33,172.39L863.2,174.78L875.08,169.99L886.95,167.84L898.83,172.39L910.7,181.96L922.58,186.74L934.45,179.56L946.33,182.2L958.2,186.98" stroke="#00ffff" stroke-width="1.2" fill="none" stroke-linejoin="round"/>
<use href="#mc" x="673.2" y="179.56"/>
<use href="#mc" x="685.08" y="196.31"/>
<use href="#mc" x="696.95" y="205.89"/>
<use href="#mc" x="708.83" y="210.67"/>
<use href="#mc" x="720.7" y="213.3"/>
<use href="#mc" x="744.45" y="191.53"/>
<use href="#mc" x="768.2" y="162.34"/>
<use href="#mc" x="780.08" y="162.34"/>
<use href="#mc" x="791.95" y="179.56"/>
<use href="#mc" x="803.83" y="181.96"/>
<use href="#mc" x="815.7" y="167.84"/>
<use href="#mc" x="827.58" y="141.52"/>
<use href="#mc" x="839.45" y="153.24"/>
<use href="#mc" x="851.33" y="172.39"/>
<use href="#mc" x="863.2" y="174.78"/>
<use href="#mc" x="875.08" y="169.99"/>
<use href="#mc" x="886.95" y="167.84"/>
<use href="#mc" x="898.83" y="172.39"/>
<use href="#mc" x="910.7" y="181.96"/>
<use href="#mc" x="922.58" y="186.74"/>
<use href="#mc" x="934.45" y="179.56"/>
<use href="#mc" x="946.33" y="182.2"/>
<use href="#mc" x="958.2" y="186.98"/>
<path d="M673.2,186.74L685.08,186.74L696.95,196.31L708.83,201.1L720.7,203.73L732.58,208.28L744.45,201.1L756.33,201.1L768.2,198.71L803.83,186.74L815.7,189.14L827.58,184.59L839.45,182.2L851.33,169.99L863.2,165.45L875.08,158.27L886.95,158.27L898.83,167.84L910.7,174.78L922.58,189.14L934.45,194.64L946.33,201.1L958.2,203.73" stroke="#00ff00" stroke-width="1.2" fill="none" stroke-linejoin="round"/>
<use href="#mg" x="673.2" y="186.74"/>
<use href="#mg" x="685.08" y="186.74"/>
<use href="#mg" x="696.95" y="196.31"/>
<use href="#mg" x="708.83" y="201.1"/>
<use href="#mg" x="720.7" y="203.73"/>
<use href="#mg" x="732.58" y="208.28"/>
<use href="#mg" x="744.45" y="201.1"/>
<use href="#mg" x="756.33" y="201.1"/>
<use href="#mg" x="768.2" y="198.71"/>
<use href="#mg" x="803.83" y="186.74"/>
<use href="#mg" x="815.7" y="189.14"/>
<use href="#mg" x="827.58" y="184.59"/>
<use href="#mg" x="839.45" y="182.2"/>
<use href="#mg" x="851.33" y="169.99"/>
<use href="#mg" x="863.2" y="165.45"/>
<use href="#mg" x="875.08" y="158.27"/>
<use href="#mg" x="886.95" y="158.27"/>
<use href="#mg" x="898.83" y="167.84"/>
<use href="#mg" x="910.7" y="174.78"/>
<use href="#mg" x="922.58" y="189.14"/>
<use href="#mg" x="934.45" y="194.64"/>
<use href="#mg" x="946.33" y="201.1"/>
<use href="#mg" x="958.2" y="203.73"/>
<path d="M673.2,203.73L685.08,210.67L696.95,210.67L708.83,205.89L720.7,210.67L732.58,215.94L744.45,208.28L756.33,210.67L768.2,213.3L780.08,210.67L791.95,203.73L803.83,194.16L815.7,191.53L827.58,191.53L839.45,196.31L851.33,198.71L863.2,196.31L875.08,189.14L886.95,189.14L898.83,191.53L910.7,186.98L922.58,189.14L934.45,194.16L946.33,198.71L958.2,198.71" stroke="#0000ff" stroke-width="1.2" fill="none" stroke-linejoin="round"/>
<use href="#mb" x="673.2" y="203.73"/>
<use href="#mb" x="685.08" y="210.67"/>
<use href="#mb" x="696.95" y="210.67"/>
<use href="#mb" x="708.83" y="205.89"/>
<use href="#mb" x="720.7" y="210.67"/>
<use href="#mb" x="732.58" y="215.94"/>
<use href="#mb" x="744.45" y="208.28"/>
<use href="#mb" x="756.33" y="210.67"/>
<use href="#mb" x="768.2" y="213.3"/>
<use href="#mb" x="780.08" y="210.67"/>
<use href="#mb" x="791.95" y="203.73"/>
<use href="#mb" x="803.83" y="194.16"/>
<use href="#mb" x="815.7" y="191.53"/>
<use href="#mb" x="827.58" y="191.53"/>
<use href="#mb" x="839.45" y="196.31"/>
<use href="#mb" x="851.33" y="198.71"/>
<use href="#mb" x="863.2" y="196.31"/>
<use href="#mb" x="875.08" y="189.14"/>
<use href="#mb" x="886.95" y="189.14"/>
<use href="#mb" x="898.83" y="191.53"/>
<use href="#mb" x="910.7" y="186.98"/>
<use href="#mb" x="922.58" y="189.14"/>
<use href="#mb" x="934.45" y="194.16"/>
<use href="#mb" x="946.33" y="198.71"/>
<use href="#mb" x="958.2" y="198.71"/>
<path d="M673.2,198.71L685.08,189.14L696.95,191.53L708.83,201.1L720.7,203.73L732.58,203.73L744.45,203.73L756.33,196.31L768.2,194.16L780.08,184.59L791.95,179.56L803.83,177.41L815.7,182.2L827.58,186.74L839.45,189.14L851.33,205.89L863.2,184.59L875.08,158.27L886.95,158.27L898.83,167.84L910.7,184.59L922.58,201.1L934.45,201.1L946.33,194.16L958.2,198.71" stroke="#ff0000" stroke-width="1.2" fill="none" stroke-linejoin="round"/>
<use href="#mr" x="673.2" y="198.71"/>
<use href="#mr" x="685.08" y="189.14"/>
<use href="#mr" x="696.95" y="191.53"/>
<use href="#mr" x="708.83" y="201.1"/>
<use href="#mr" x="720.7" y="203.73"/>
<use href="#mr" x="732.58" y="203.73"/>
<use href="#mr" x="744.45" y="203.73"/>
<use href="#mr" x="756.33" y="196.31"/>
<use href="#mr" x="768.2" y="194.16"/>
<use href="#mr" x="780.08" y="184.59"/>
<use href="#mr" x="791.95" y="179.56"/>
<use href="#mr" x="803.83" y="177.41"/>
<use href="#mr" x="815.7" y="182.2"/>
<use href="#mr" x="827.58" y="186.74"/>
<use href="#mr" x="839.45" y="189.14"/>
<use href="#mr" x="851.33" y="205.89"/>
<use href="#mr" x="863.2" y="184.59"/>
<use href="#mr" x="875.08" y="158.27"/>
<use href="#mr" x="886.95" y="158.27"/>
<use href="#mr" x="898.83" y="167.84"/>
<use href="#mr" x="910.7" y="184.59"/>
<use href="#mr" x="922.58" y="201.1"/>
<use href="#mr" x="934.45" y="201.1"/>
<use href="#mr" x="946.33" y="194.16"/>
<use href="#mr" x="958.2" y="198.71"/>
</g>
<path d="M673.2,205.89H958.2M673.2,193.92H958.2M673.2,181.96H958.2M673.2,169.99H958.2M673.2,158.03H958.2M673.2,146.06H958.2M720.7,134.1V217.85M768.2,134.1V217.85M815.7,134.1V217.85M863.2,134.1V217.85M910.7,134.1V217.85" stroke="#000" stroke-width="1.05" stroke-dasharray="1.2 1.9" fill="none"/>
<path d="M673.2,217.85h6.0M958.2,217.85h-6.0M673.2,211.87h3.8M958.2,211.87h-3.8M673.2,205.89h6.0M958.2,205.89h-6.0M673.2,199.9h3.8M958.2,199.9h-3.8M673.2,193.92h6.0M958.2,193.92h-6.0M673.2,187.94h3.8M958.2,187.94h-3.8M673.2,181.96h6.0M958.2,181.96h-6.0M673.2,175.97h3.8M958.2,175.97h-3.8M673.2,169.99h6.0M958.2,169.99h-6.0M673.2,164.01h3.8M958.2,164.01h-3.8M673.2,158.03h6.0M958.2,158.03h-6.0M673.2,152.05h3.8M958.2,152.05h-3.8M673.2,146.06h6.0M958.2,146.06h-6.0M673.2,140.08h3.8M958.2,140.08h-3.8M673.2,134.1h6.0M958.2,134.1h-6.0M673.2,134.1v3.6M673.2,217.85v-3.6M696.95,134.1v3.6M696.95,217.85v-3.6M720.7,134.1v3.6M720.7,217.85v-3.6M744.45,134.1v3.6M744.45,217.85v-3.6M768.2,134.1v3.6M768.2,217.85v-3.6M791.95,134.1v3.6M791.95,217.85v-3.6M815.7,134.1v3.6M815.7,217.85v-3.6M839.45,134.1v3.6M839.45,217.85v-3.6M863.2,134.1v3.6M863.2,217.85v-3.6M886.95,134.1v3.6M886.95,217.85v-3.6M910.7,134.1v3.6M910.7,217.85v-3.6M934.45,134.1v3.6M934.45,217.85v-3.6M958.2,134.1v3.6M958.2,217.85v-3.6" stroke="#000" stroke-width="1.0" fill="none"/>
<g font-family="'Liberation Sans', sans-serif" font-weight="bold" font-size="8.7" fill="#000" stroke="#000" stroke-width="0.1">
<text x="668.6" y="220.65" text-anchor="end">5</text>
<text x="668.6" y="208.69" text-anchor="end">10</text>
<text x="668.6" y="196.72" text-anchor="end">15</text>
<text x="668.6" y="184.76" text-anchor="end">20</text>
<text x="668.6" y="172.79" text-anchor="end">25</text>
<text x="668.6" y="160.83" text-anchor="end">30</text>
<text x="668.6" y="148.86" text-anchor="end">35</text>
<text x="668.6" y="136.9" text-anchor="end">40</text>
<text x="673.2" y="228.55" text-anchor="middle">0</text>
<text x="720.7" y="228.55" text-anchor="middle">4</text>
<text x="768.2" y="228.55" text-anchor="middle">8</text>
<text x="815.7" y="228.55" text-anchor="middle">12</text>
<text x="863.2" y="228.55" text-anchor="middle">16</text>
<text x="910.7" y="228.55" text-anchor="middle">20</text>
<text x="957.4" y="228.55" text-anchor="middle">24</text>
</g>
<text y="130.35" font-family="'Liberation Serif', serif" font-weight="bold" font-size="8.8" fill="#000" stroke="#000" stroke-width="0.25"><tspan x="902.95" textLength="15.1" lengthAdjust="spacingAndGlyphs">FSP</tspan> <tspan x="922.05" textLength="37.0" lengthAdjust="spacingAndGlyphs">(ug/m3)</tspan></text>
</g>
<g id="O3">
<rect x="348.2" y="241.95" width="285.1" height="84.05" stroke="#000" stroke-width="1.6" fill="none"/>
<g clip-path="url(#cpO3)">
<path d="M348.2,263.48L360.08,256.07L371.96,246.99L383.84,248.39L395.72,267.25L407.6,287.38L419.47,274.24L431.35,311.56L443.23,310.58L455.11,309.6L466.99,314.63L478.87,312.67L490.75,297.44L502.63,273.82L514.51,252.02L526.39,247.97L538.27,249.37L550.15,259.15L562.02,274.24L573.9,273.26L585.78,274.24L597.66,278.85L609.54,276.34L621.42,290.87L633.3,295.48" stroke="#00ffff" stroke-width="1.2" fill="none" stroke-linejoin="round"/>
<use href="#mc" x="348.2" y="263.48"/>
<use href="#mc" x="360.08" y="256.07"/>
<use href="#mc" x="371.96" y="246.99"/>
<use href="#mc" x="383.84" y="248.39"/>
<use href="#mc" x="395.72" y="267.25"/>
<use href="#mc" x="407.6" y="287.38"/>
<use href="#mc" x="419.47" y="274.24"/>
<use href="#mc" x="431.35" y="311.56"/>
<use href="#mc" x="443.23" y="310.58"/>
<use href="#mc" x="455.11" y="309.6"/>
<use href="#mc" x="466.99" y="314.63"/>
<use href="#mc" x="478.87" y="312.67"/>
<use href="#mc" x="490.75" y="297.44"/>
<use href="#mc" x="502.63" y="273.82"/>
<use href="#mc" x="514.51" y="252.02"/>
<use href="#mc" x="526.39" y="247.97"/>
<use href="#mc" x="538.27" y="249.37"/>
<use href="#mc" x="550.15" y="259.15"/>
<use href="#mc" x="562.02" y="274.24"/>
<use href="#mc" x="573.9" y="273.26"/>
<use href="#mc" x="585.78" y="274.24"/>
<use href="#mc" x="597.66" y="278.85"/>
<use href="#mc" x="609.54" y="276.34"/>
<use href="#mc" x="621.42" y="290.87"/>
<use href="#mc" x="633.3" y="295.48"/>
<path d="M348.2,295.48L360.08,292.83L371.96,284.72L383.84,285L395.72,285L407.6,290.45L419.47,291.01L431.35,295.48L443.23,304.99L455.11,306.11L466.99,293.81L478.87,287.38L490.75,310.02L502.63,318.68L514.51,318.68L526.39,310.02L538.27,319.1L550.15,313.23L562.02,306.52L573.9,293.39L585.78,295.48L597.66,289.34L609.54,286.4L621.42,284.72L633.3,281.93" stroke="#00ff00" stroke-width="1.2" fill="none" stroke-linejoin="round"/>
<use href="#mg" x="348.2" y="295.48"/>
<use href="#mg" x="360.08" y="292.83"/>
<use href="#mg" x="371.96" y="284.72"/>
<use href="#mg" x="383.84" y="285"/>
<use href="#mg" x="395.72" y="285"/>
<use href="#mg" x="407.6" y="290.45"/>
<use href="#mg" x="419.47" y="291.01"/>
<use href="#mg" x="431.35" y="295.48"/>
<use href="#mg" x="443.23" y="304.99"/>
<use href="#mg" x="455.11" y="306.11"/>
<use href="#mg" x="466.99" y="293.81"/>
<use href="#mg" x="478.87" y="287.38"/>
<use href="#mg" x="490.75" y="310.02"/>
<use href="#mg" x="502.63" y="318.68"/>
<use href="#mg" x="514.51" y="318.68"/>
<use href="#mg" x="526.39" y="310.02"/>
<use href="#mg" x="538.27" y="319.1"/>
<use href="#mg" x="550.15" y="313.23"/>
<use href="#mg" x="562.02" y="306.52"/>
<use href="#mg" x="573.9" y="293.39"/>
<use href="#mg" x="585.78" y="295.48"/>
<use href="#mg" x="597.66" y="289.34"/>
<use href="#mg" x="609.54" y="286.4"/>
<use href="#mg" x="621.42" y="284.72"/>
<use href="#mg" x="633.3" y="281.93"/>
<path d="M348.2,281.37L360.08,269.63L371.96,256.07L383.84,263.76L395.72,266.14L407.6,263.48L419.47,266.14L431.35,275.64L443.23,278.85L455.11,280.25L466.99,277.32L478.87,267.53L490.75,261.66L502.63,254.12L514.51,254.12L526.39,251.6L538.27,257.05L550.15,261.66L562.02,268.65L573.9,261.66L585.78,263.2L597.66,267.25L609.54,262.5L621.42,262.5L633.3,261.53" stroke="#0000ff" stroke-width="1.2" fill="none" stroke-linejoin="round"/>
<use href="#mb" x="348.2" y="281.37"/>
<use href="#mb" x="360.08" y="269.63"/>
<use href="#mb" x="371.96" y="256.07"/>
<use href="#mb" x="383.84" y="263.76"/>
<use href="#mb" x="395.72" y="266.14"/>
<use href="#mb" x="407.6" y="263.48"/>
<use href="#mb" x="419.47" y="266.14"/>
<use href="#mb" x="431.35" y="275.64"/>
<use href="#mb" x="443.23" y="278.85"/>
<use href="#mb" x="455.11" y="280.25"/>
<use href="#mb" x="466.99" y="277.32"/>
<use href="#mb" x="478.87" y="267.53"/>
<use href="#mb" x="490.75" y="261.66"/>
<use href="#mb" x="502.63" y="254.12"/>
<use href="#mb" x="514.51" y="254.12"/>
<use href="#mb" x="526.39" y="251.6"/>
<use href="#mb" x="538.27" y="257.05"/>
<use href="#mb" x="550.15" y="261.66"/>
<use href="#mb" x="562.02" y="268.65"/>
<use href="#mb" x="573.9" y="261.66"/>
<use href="#mb" x="585.78" y="263.2"/>
<use href="#mb" x="597.66" y="267.25"/>
<use href="#mb" x="609.54" y="262.5"/>
<use href="#mb" x="621.42" y="262.5"/>
<use href="#mb" x="633.3" y="261.53"/>
<path d="M348.2,261.53L360.08,264.18L371.96,260.13L383.84,263.2L395.72,258.03L407.6,257.47L419.47,261.53L431.35,273.26L443.23,274.66L455.11,270.75L466.99,269.63L478.87,264.18L490.75,269.77L502.63,268.79L514.51,279.69L526.39,271.87L538.27,268.23L550.15,266.84L562.02,271.87L573.9,274.24L585.78,274.24L597.66,271.87L609.54,275.64L621.42,279.69L633.3,278.3" stroke="#ff0000" stroke-width="1.2" fill="none" stroke-linejoin="round"/>
<use href="#mr" x="348.2" y="261.53"/>
<use href="#mr" x="360.08" y="264.18"/>
<use href="#mr" x="371.96" y="260.13"/>
<use href="#mr" x="383.84" y="263.2"/>
<use href="#mr" x="395.72" y="258.03"/>
<use href="#mr" x="407.6" y="257.47"/>
<use href="#mr" x="419.47" y="261.53"/>
<use href="#mr" x="431.35" y="273.26"/>
<use href="#mr" x="443.23" y="274.66"/>
<use href="#mr" x="455.11" y="270.75"/>
<use href="#mr" x="466.99" y="269.63"/>
<use href="#mr" x="478.87" y="264.18"/>
<use href="#mr" x="490.75" y="269.77"/>
<use href="#mr" x="502.63" y="268.79"/>
<use href="#mr" x="514.51" y="279.69"/>
<use href="#mr" x="526.39" y="271.87"/>
<use href="#mr" x="538.27" y="268.23"/>
<use href="#mr" x="550.15" y="266.84"/>
<use href="#mr" x="562.02" y="271.87"/>
<use href="#mr" x="573.9" y="274.24"/>
<use href="#mr" x="585.78" y="274.24"/>
<use href="#mr" x="597.66" y="271.87"/>
<use href="#mr" x="609.54" y="275.64"/>
<use href="#mr" x="621.42" y="279.69"/>
<use href="#mr" x="633.3" y="278.3"/>
</g>
<path d="M348.2,311.97H633.3M348.2,298H633.3M348.2,284.02H633.3M348.2,270.05H633.3M348.2,256.07H633.3M395.72,242.1V325.95M443.23,242.1V325.95M490.75,242.1V325.95M538.27,242.1V325.95M585.78,242.1V325.95" stroke="#000" stroke-width="1.05" stroke-dasharray="1.2 1.9" fill="none"/>
<path d="M348.2,325.95h6.0M633.3,325.95h-6.0M348.2,318.96h3.8M633.3,318.96h-3.8M348.2,311.97h6.0M633.3,311.97h-6.0M348.2,304.99h3.8M633.3,304.99h-3.8M348.2,298h6.0M633.3,298h-6.0M348.2,291.01h3.8M633.3,291.01h-3.8M348.2,284.02h6.0M633.3,284.02h-6.0M348.2,277.04h3.8M633.3,277.04h-3.8M348.2,270.05h6.0M633.3,270.05h-6.0M348.2,263.06h3.8M633.3,263.06h-3.8M348.2,256.07h6.0M633.3,256.07h-6.0M348.2,249.09h3.8M633.3,249.09h-3.8M348.2,242.1h6.0M633.3,242.1h-6.0M348.2,242.1v3.6M348.2,325.95v-3.6M371.96,242.1v3.6M371.96,325.95v-3.6M395.72,242.1v3.6M395.72,325.95v-3.6M419.47,242.1v3.6M419.47,325.95v-3.6M443.23,242.1v3.6M443.23,325.95v-3.6M466.99,242.1v3.6M466.99,325.95v-3.6M490.75,242.1v3.6M490.75,325.95v-3.6M514.51,242.1v3.6M514.51,325.95v-3.6M538.27,242.1v3.6M538.27,325.95v-3.6M562.02,242.1v3.6M562.02,325.95v-3.6M585.78,242.1v3.6M585.78,325.95v-3.6M609.54,242.1v3.6M609.54,325.95v-3.6M633.3,242.1v3.6M633.3,325.95v-3.6" stroke="#000" stroke-width="1.0" fill="none"/>
<g font-family="'Liberation Sans', sans-serif" font-weight="bold" font-size="8.7" fill="#000" stroke="#000" stroke-width="0.1">
<text x="343.6" y="328.75" text-anchor="end">0</text>
<text x="343.6" y="314.77" text-anchor="end">10</text>
<text x="343.6" y="300.8" text-anchor="end">20</text>
<text x="343.6" y="286.82" text-anchor="end">30</text>
<text x="343.6" y="272.85" text-anchor="end">40</text>
<text x="343.6" y="258.88" text-anchor="end">50</text>
<text x="343.6" y="244.9" text-anchor="end">60</text>
<text x="348.2" y="336.65" text-anchor="middle">0</text>
<text x="395.72" y="336.65" text-anchor="middle">4</text>
<text x="443.23" y="336.65" text-anchor="middle">8</text>
<text x="490.75" y="336.65" text-anchor="middle">12</text>
<text x="538.27" y="336.65" text-anchor="middle">16</text>
<text x="585.78" y="336.65" text-anchor="middle">20</text>
<text x="632.5" y="336.65" text-anchor="middle">24</text>
</g>
<text y="238.35" font-family="'Liberation Serif', serif" font-weight="bold" font-size="8.8" fill="#000" stroke="#000" stroke-width="0.25"><tspan x="597.55" textLength="10.3" lengthAdjust="spacingAndGlyphs">O3</tspan> <tspan x="611.45" textLength="22.7" lengthAdjust="spacingAndGlyphs">(ppb)</tspan></text>
</g>
<g id="AQI">
<rect x="673.2" y="26.25" width="285" height="83.75" stroke="#000" stroke-width="1.6" fill="none"/>
<g clip-path="url(#cpAQI)">
<path d="M673.2,32.85L685.08,33.8L696.95,35.47L708.83,36.9L720.7,38.1L732.58,39.53L744.45,35.95L756.33,35.47L768.2,36.43L780.08,37.38L791.95,38.1L803.83,35.95L815.7,31.41L827.58,30.94L839.45,34.75L851.33,35.95L863.2,37.38L875.08,38.81L886.95,40.48L898.83,43.11L910.7,47.41L922.58,55.52L934.45,60.06L946.33,64.12L958.2,65.55" stroke="#00ffff" stroke-width="1.2" fill="none" stroke-linejoin="round"/>
<use href="#mc" x="673.2" y="32.85"/>
<use href="#mc" x="685.08" y="33.8"/>
<use href="#mc" x="696.95" y="35.47"/>
<use href="#mc" x="708.83" y="36.9"/>
<use href="#mc" x="720.7" y="38.1"/>
<use href="#mc" x="732.58" y="39.53"/>
<use href="#mc" x="744.45" y="35.95"/>
<use href="#mc" x="756.33" y="35.47"/>
<use href="#mc" x="768.2" y="36.43"/>
<use href="#mc" x="780.08" y="37.38"/>
<use href="#mc" x="791.95" y="38.1"/>
<use href="#mc" x="803.83" y="35.95"/>
<use href="#mc" x="815.7" y="31.41"/>
<use href="#mc" x="827.58" y="30.94"/>
<use href="#mc" x="839.45" y="34.75"/>
<use href="#mc" x="851.33" y="35.95"/>
<use href="#mc" x="863.2" y="37.38"/>
<use href="#mc" x="875.08" y="38.81"/>
<use href="#mc" x="886.95" y="40.48"/>
<use href="#mc" x="898.83" y="43.11"/>
<use href="#mc" x="910.7" y="47.41"/>
<use href="#mc" x="922.58" y="55.52"/>
<use href="#mc" x="934.45" y="60.06"/>
<use href="#mc" x="946.33" y="64.12"/>
<use href="#mc" x="958.2" y="65.55"/>
<path d="M673.2,65.55L685.08,65.07L696.95,65.07L708.83,65.07L720.7,65.55L732.58,66.98L744.45,70.56L756.33,71.52L768.2,72.23L780.08,72.23L791.95,72.71L803.83,76.29L815.7,81.3L827.58,81.07L839.45,76.53L851.33,70.56L863.2,66.27L875.08,59.58L886.95,54.09L898.83,49.08L910.7,45.5L922.58,40.48L934.45,36.9L946.33,35.95L958.2,36.43" stroke="#00ff00" stroke-width="1.2" fill="none" stroke-linejoin="round"/>
<use href="#mg" x="673.2" y="65.55"/>
<use href="#mg" x="685.08" y="65.07"/>
<use href="#mg" x="696.95" y="65.07"/>
<use href="#mg" x="708.83" y="65.07"/>
<use href="#mg" x="720.7" y="65.55"/>
<use href="#mg" x="732.58" y="66.98"/>
<use href="#mg" x="744.45" y="70.56"/>
<use href="#mg" x="756.33" y="71.52"/>
<use href="#mg" x="768.2" y="72.23"/>
<use href="#mg" x="780.08" y="72.23"/>
<use href="#mg" x="791.95" y="72.71"/>
<use href="#mg" x="803.83" y="76.29"/>
<use href="#mg" x="815.7" y="81.3"/>
<use href="#mg" x="827.58" y="81.07"/>
<use href="#mg" x="839.45" y="76.53"/>
<use href="#mg" x="851.33" y="70.56"/>
<use href="#mg" x="863.2" y="66.27"/>
<use href="#mg" x="875.08" y="59.58"/>
<use href="#mg" x="886.95" y="54.09"/>
<use href="#mg" x="898.83" y="49.08"/>
<use href="#mg" x="910.7" y="45.5"/>
<use href="#mg" x="922.58" y="40.48"/>
<use href="#mg" x="934.45" y="36.9"/>
<use href="#mg" x="946.33" y="35.95"/>
<use href="#mg" x="958.2" y="36.43"/>
<path d="M673.2,36.43L685.08,37.38L696.95,38.1L708.83,38.1L720.7,38.57L732.58,39.53L744.45,39.53L756.33,40.01L768.2,38.81L780.08,38.57L791.95,38.57L803.83,37.86L815.7,37.38L827.58,40.96L839.45,45.02L851.33,48.6L863.2,53.14L875.08,59.58L886.95,64.59L898.83,68.65L910.7,71.52L922.58,76.05L934.45,78.68L946.33,79.63L958.2,80.35" stroke="#0000ff" stroke-width="1.2" fill="none" stroke-linejoin="round"/>
<use href="#mb" x="673.2" y="36.43"/>
<use href="#mb" x="685.08" y="37.38"/>
<use href="#mb" x="696.95" y="38.1"/>
<use href="#mb" x="708.83" y="38.1"/>
<use href="#mb" x="720.7" y="38.57"/>
<use href="#mb" x="732.58" y="39.53"/>
<use href="#mb" x="744.45" y="39.53"/>
<use href="#mb" x="756.33" y="40.01"/>
<use href="#mb" x="768.2" y="38.81"/>
<use href="#mb" x="780.08" y="38.57"/>
<use href="#mb" x="791.95" y="38.57"/>
<use href="#mb" x="803.83" y="37.86"/>
<use href="#mb" x="815.7" y="37.38"/>
<use href="#mb" x="827.58" y="40.96"/>
<use href="#mb" x="839.45" y="45.02"/>
<use href="#mb" x="851.33" y="48.6"/>
<use href="#mb" x="863.2" y="53.14"/>
<use href="#mb" x="875.08" y="59.58"/>
<use href="#mb" x="886.95" y="64.59"/>
<use href="#mb" x="898.83" y="68.65"/>
<use href="#mb" x="910.7" y="71.52"/>
<use href="#mb" x="922.58" y="76.05"/>
<use href="#mb" x="934.45" y="78.68"/>
<use href="#mb" x="946.33" y="79.63"/>
<use href="#mb" x="958.2" y="80.35"/>
<path d="M673.2,80.35L685.08,80.59L696.95,80.59L708.83,81.3L720.7,81.54L732.58,81.78L744.45,82.26L756.33,82.74L768.2,83.69L780.08,85.36L791.95,87.75L803.83,89.66L815.7,91.57L827.58,92.76L839.45,93L851.33,93.24L863.2,93.24L875.08,94.19L886.95,96.34L898.83,98.25L910.7,100.16L922.58,101.36L934.45,101.83L946.33,101.83L958.2,101.36" stroke="#ff0000" stroke-width="1.2" fill="none" stroke-linejoin="round"/>
<use href="#mr" x="673.2" y="80.35"/>
<use href="#mr" x="685.08" y="80.59"/>
<use href="#mr" x="696.95" y="80.59"/>
<use href="#mr" x="708.83" y="81.3"/>
<use href="#mr" x="720.7" y="81.54"/>
<use href="#mr" x="732.58" y="81.78"/>
<use href="#mr" x="744.45" y="82.26"/>
<use href="#mr" x="756.33" y="82.74"/>
<use href="#mr" x="768.2" y="83.69"/>
<use href="#mr" x="780.08" y="85.36"/>
<use href="#mr" x="791.95" y="87.75"/>
<use href="#mr" x="803.83" y="89.66"/>
<use href="#mr" x="815.7" y="91.57"/>
<use href="#mr" x="827.58" y="92.76"/>
<use href="#mr" x="839.45" y="93"/>
<use href="#mr" x="851.33" y="93.24"/>
<use href="#mr" x="863.2" y="93.24"/>
<use href="#mr" x="875.08" y="94.19"/>
<use href="#mr" x="886.95" y="96.34"/>
<use href="#mr" x="898.83" y="98.25"/>
<use href="#mr" x="910.7" y="100.16"/>
<use href="#mr" x="922.58" y="101.36"/>
<use href="#mr" x="934.45" y="101.83"/>
<use href="#mr" x="946.33" y="101.83"/>
<use href="#mr" x="958.2" y="101.36"/>
</g>
<path d="M673.2,98.01H958.2M673.2,86.08H958.2M673.2,74.14H958.2M673.2,62.21H958.2M673.2,50.27H958.2M673.2,38.34H958.2M720.7,26.4V109.95M768.2,26.4V109.95M815.7,26.4V109.95M863.2,26.4V109.95M910.7,26.4V109.95" stroke="#000" stroke-width="1.05" stroke-dasharray="1.2 1.9" fill="none"/>
<path d="M673.2,109.95h6.0M958.2,109.95h-6.0M673.2,103.98h3.8M958.2,103.98h-3.8M673.2,98.01h6.0M958.2,98.01h-6.0M673.2,92.05h3.8M958.2,92.05h-3.8M673.2,86.08h6.0M958.2,86.08h-6.0M673.2,80.11h3.8M958.2,80.11h-3.8M673.2,74.14h6.0M958.2,74.14h-6.0M673.2,68.17h3.8M958.2,68.17h-3.8M673.2,62.21h6.0M958.2,62.21h-6.0M673.2,56.24h3.8M958.2,56.24h-3.8M673.2,50.27h6.0M958.2,50.27h-6.0M673.2,44.3h3.8M958.2,44.3h-3.8M673.2,38.34h6.0M958.2,38.34h-6.0M673.2,32.37h3.8M958.2,32.37h-3.8M673.2,26.4h6.0M958.2,26.4h-6.0M673.2,26.4v3.6M673.2,109.95v-3.6M696.95,26.4v3.6M696.95,109.95v-3.6M720.7,26.4v3.6M720.7,109.95v-3.6M744.45,26.4v3.6M744.45,109.95v-3.6M768.2,26.4v3.6M768.2,109.95v-3.6M791.95,26.4v3.6M791.95,109.95v-3.6M815.7,26.4v3.6M815.7,109.95v-3.6M839.45,26.4v3.6M839.45,109.95v-3.6M863.2,26.4v3.6M863.2,109.95v-3.6M886.95,26.4v3.6M886.95,109.95v-3.6M910.7,26.4v3.6M910.7,109.95v-3.6M934.45,26.4v3.6M934.45,109.95v-3.6M958.2,26.4v3.6M958.2,109.95v-3.6" stroke="#000" stroke-width="1.0" fill="none"/>
<g font-family="'Liberation Sans', sans-serif" font-weight="bold" font-size="8.7" fill="#000" stroke="#000" stroke-width="0.1">
<text x="668.6" y="112.75" text-anchor="end">40</text>
<text x="668.6" y="100.81" text-anchor="end">45</text>
<text x="668.6" y="88.88" text-anchor="end">50</text>
<text x="668.6" y="76.94" text-anchor="end">55</text>
<text x="668.6" y="65.01" text-anchor="end">60</text>
<text x="668.6" y="53.07" text-anchor="end">65</text>
<text x="668.6" y="41.14" text-anchor="end">70</text>
<text x="668.6" y="29.2" text-anchor="end">75</text>
<text x="673.2" y="120.65" text-anchor="middle">0</text>
<text x="720.7" y="120.65" text-anchor="middle">4</text>
<text x="768.2" y="120.65" text-anchor="middle">8</text>
<text x="815.7" y="120.65" text-anchor="middle">12</text>
<text x="863.2" y="120.65" text-anchor="middle">16</text>
<text x="910.7" y="120.65" text-anchor="middle">20</text>
<text x="957.4" y="120.65" text-anchor="middle">24</text>
</g>
<text y="22.65" font-family="'Liberation Serif', serif" font-weight="bold" font-size="8.8" fill="#000" stroke="#000" stroke-width="0.25"><tspan x="920.05" textLength="14.6" lengthAdjust="spacingAndGlyphs">AQI</tspan> <tspan x="938.05" textLength="21.0" lengthAdjust="spacingAndGlyphs">(AQI)</tspan></text>
</g>
</svg>
</body></html>
